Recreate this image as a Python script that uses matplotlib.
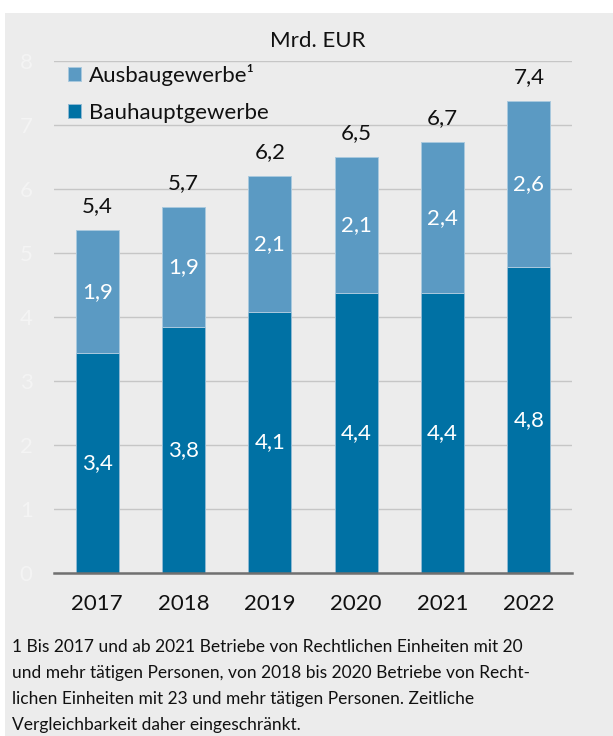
import matplotlib
matplotlib.use("Agg")
import matplotlib.pyplot as plt
from matplotlib.patches import Rectangle

plt.rcParams['font.family'] = ['Lato', 'DejaVu Sans']

# values (Mrd. EUR)
years = ['2017', '2018', '2019', '2020', '2021', '2022']
bauhaupt = [3.43, 3.84, 4.08, 4.37, 4.37, 4.78]
ausbau = [1.93, 1.88, 2.12, 2.13, 2.36, 2.60]
y_ticks = [0, 1, 2, 3, 4, 5, 6, 7, 8]

dark = '#0071a4'
light = '#5b9ac3'
bg = '#ececec'

W, H = 613, 736
fig = plt.figure(figsize=(W / 100, H / 100), dpi=100)
fig.patch.set_facecolor('white')
# grey panel behind everything
fig.patches.append(Rectangle((5 / W, 0), 1, (H - 13) / H, transform=fig.transFigure,
                             facecolor=bg, edgecolor='none', zorder=-10))

# axes placed in pixels: x 54..572, y0 at 573, y8 at 61
ax = fig.add_axes([54 / W, (H - 573) / H, 518 / W, 512 / H])
ax.set_facecolor('none')

x = range(len(years))
b1 = ax.bar(x, bauhaupt, width=0.5, color=dark, edgecolor='#8fb9d3', linewidth=0.7, zorder=3)
b2 = ax.bar(x, ausbau, width=0.5, bottom=bauhaupt, color=light, edgecolor='#a9c9de',
            linewidth=0.7, zorder=3)

def fmt(v):
    return f'{v:.1f}'.replace('.', ',')

for i in x:
    ax.text(i, bauhaupt[i] / 2, fmt(bauhaupt[i]), ha='center', va='center',
            color='white', fontsize=16, zorder=4)
    ax.text(i, bauhaupt[i] + ausbau[i] / 2, fmt(ausbau[i]), ha='center', va='center',
            color='white', fontsize=16, zorder=4)
    total = bauhaupt[i] + ausbau[i]
    ax.annotate(fmt(total), (i, total), xytext=(0, 13), textcoords='offset points',
                ha='center', va='baseline', fontsize=16, color='#111111')

ax.set_xlim(-0.5, 5.5)
ax.set_ylim(0, 8)
ax.set_yticks(y_ticks)
ax.set_yticklabels([str(t) for t in y_ticks], color='#f4f4f4', fontsize=16)
ax.set_xticks(list(x))
ax.set_xticklabels(years, fontsize=16, color='#111111')
ax.tick_params(axis='both', length=0)
ax.tick_params(axis='x', pad=15)
ax.tick_params(axis='y', pad=20)
ax.yaxis.grid(True, color='#c6c6c6', linewidth=1.0, zorder=1)
ax.set_axisbelow(True)
for s in ['top', 'right', 'left']:
    ax.spines[s].set_visible(False)
ax.spines['bottom'].set_color('#707070')
ax.spines['bottom'].set_linewidth(1.8)
ax.spines['bottom'].set_zorder(5)
for lab in ax.get_yticklabels():
    lab.set_horizontalalignment('center')

fig.text(318 / W, 1 - 41 / H, 'Mrd. EUR', ha='center', va='center', fontsize=16, color='#111111')

leg = ax.legend([b2, b1], ['Ausbaugewerbe\u00b9', 'Bauhauptgewerbe'],
                loc='upper left', bbox_to_anchor=(68 / W, 1 - 64 / H),
                bbox_transform=fig.transFigure, frameon=False, fontsize=16,
                handlelength=0.6, handleheight=0.6, handletextpad=0.35,
                labelspacing=0.75, borderaxespad=0, borderpad=0)
for t in leg.get_texts():
    t.set_color('#111111')

foot = ('1 Bis 2017 und ab 2021 Betriebe von Rechtlichen Einheiten mit 20\n'
        'und mehr tätigen Personen, von 2018 bis 2020 Betriebe von Recht-\n'
        'lichen Einheiten mit 23 und mehr tätigen Personen. Zeitliche\n'
        'Vergleichbarkeit daher eingeschränkt.')
fig.text(12 / W, 1 - 639 / H, foot, ha='left', va='top', fontsize=12.5,
         linespacing=1.78, color='#111111')

fig.savefig('out.png', dpi=100, facecolor=fig.get_facecolor())
